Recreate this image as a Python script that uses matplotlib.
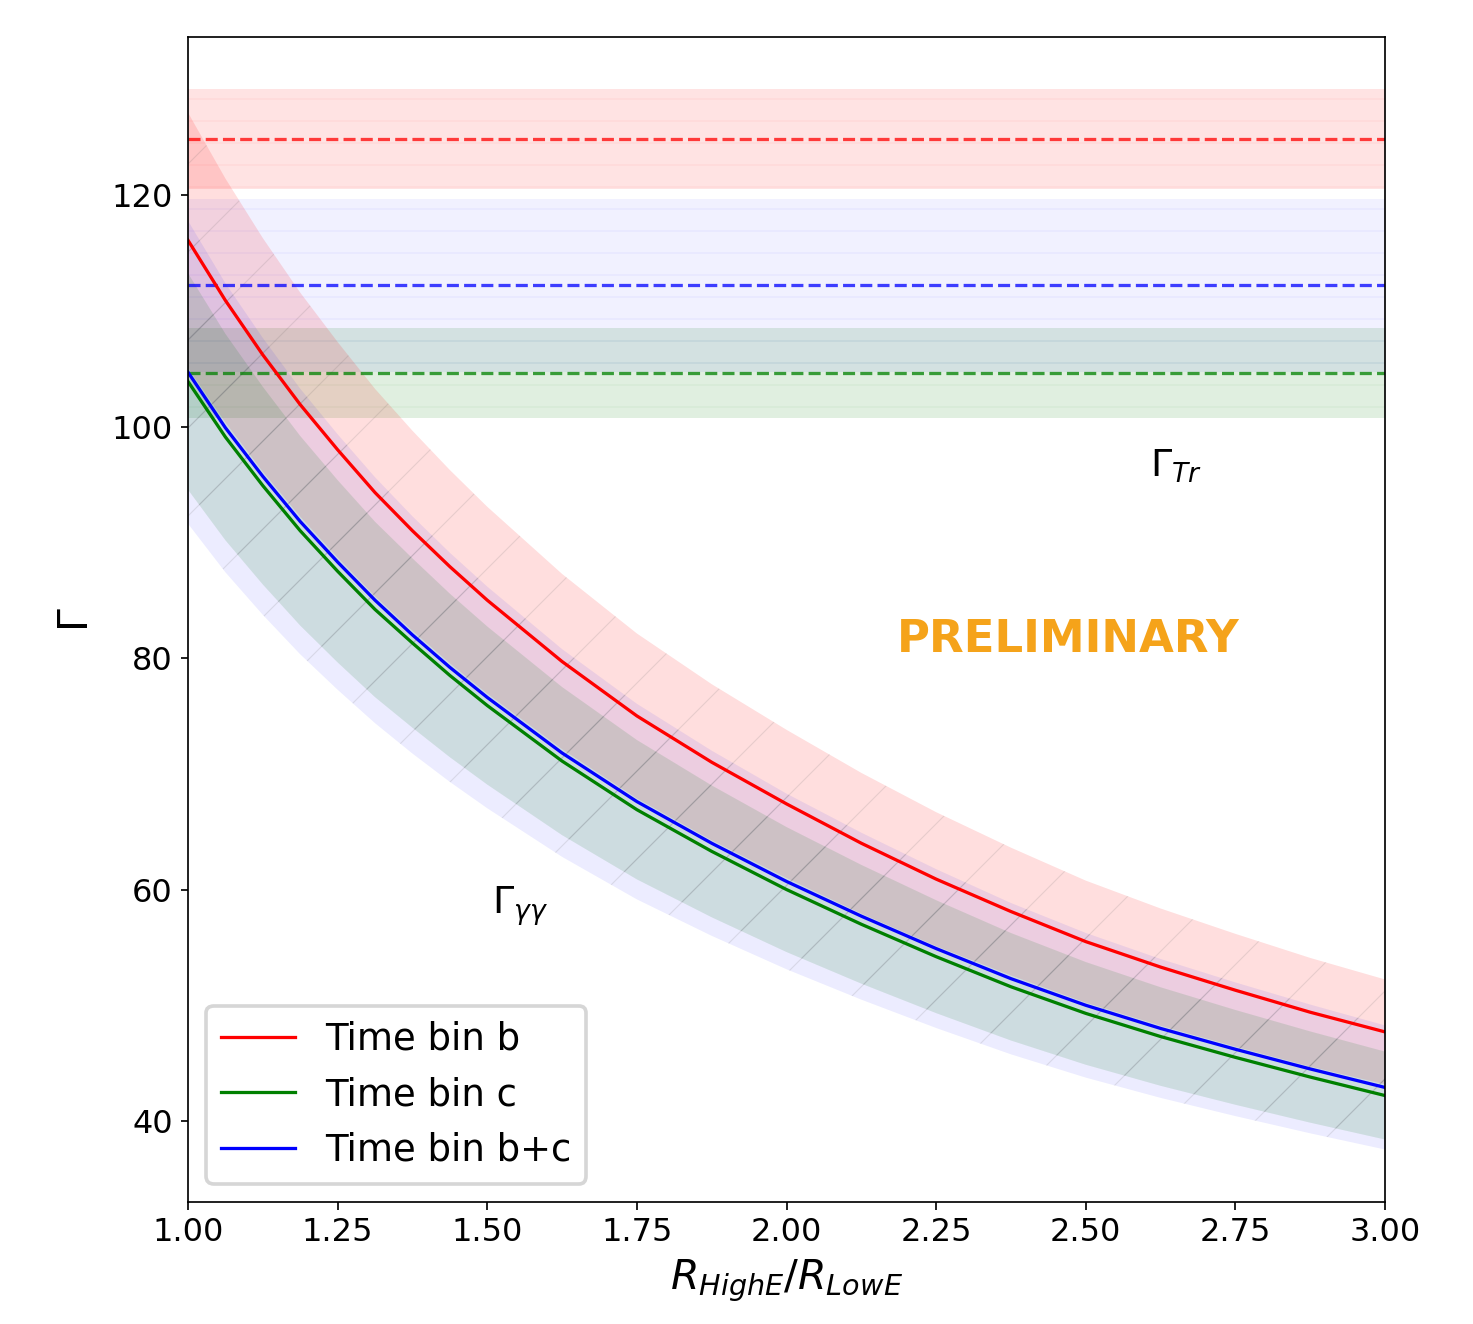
import numpy as np
import matplotlib
matplotlib.use('Agg')
import matplotlib.pyplot as plt
from matplotlib.colors import to_rgba

# ratio R_HighE / R_LowE and the gamma-gamma curves
ratio = [1.0, 1.0625, 1.125, 1.1875, 1.25, 1.3125, 1.375, 1.4375, 1.5, 1.625, 1.75,
         1.875, 2.0, 2.125, 2.25, 2.375, 2.5, 2.625, 2.75, 2.875, 3.0]
gamma_b = [116.1, 110.9, 106.2, 101.9, 98.0, 94.3, 91.0, 87.9, 85.0, 79.7, 75.0,
           71.0, 67.4, 64.0, 60.9, 58.1, 55.5, 53.3, 51.3, 49.4, 47.7]
gamma_c = [103.9, 99.1, 94.9, 91.0, 87.5, 84.2, 81.3, 78.5, 75.9, 71.1, 66.9,
           63.3, 60.0, 57.0, 54.2, 51.6, 49.3, 47.3, 45.5, 43.8, 42.2]
gamma_bc = [104.7, 99.9, 95.7, 91.8, 88.3, 85.0, 82.0, 79.2, 76.6, 71.8, 67.6,
            64.0, 60.7, 57.7, 54.9, 52.3, 50.0, 48.0, 46.2, 44.5, 42.9]

# relative uncertainty of each curve
rel_err = {'b': 0.095, 'c': 0.09, 'bc': 0.125}

# transparency Lorentz factor (value, error)
gamma_tr = {'b': (124.85, 4.3), 'c': (104.6, 3.9), 'bc': (112.2, 7.5)}

labels = {'b': 'Time bin b', 'c': 'Time bin c', 'bc': 'Time bin b+c'}
colors = {'b': 'red', 'c': 'green', 'bc': 'blue'}
band_alpha = {'b': 0.11, 'c': 0.12, 'bc': 0.055}
curve_alpha = {'b': 0.13, 'c': 0.13, 'bc': 0.075}

dpi = 264
px = 72 / dpi  # one pixel in points

plt.rcParams['hatch.linewidth'] = 1.1 * px
plt.rcParams['axes.linewidth'] = 1.7 * px
plt.rcParams['xtick.major.width'] = 1.7 * px
plt.rcParams['ytick.major.width'] = 1.7 * px
plt.rcParams['xtick.major.size'] = 7.5 * px
plt.rcParams['ytick.major.size'] = 7.5 * px
plt.rcParams['xtick.major.pad'] = 7.5 * px
plt.rcParams['ytick.major.pad'] = 7.5 * px
plt.rcParams['xtick.labelsize'] = 32 * px
plt.rcParams['ytick.labelsize'] = 32 * px
plt.rcParams['font.size'] = 37 * px

fig = plt.figure(figsize=(1473 / dpi, 1324 / dpi), dpi=dpi)
ax = fig.add_axes([0.1276, 0.0921, 0.8127, 0.8799])

x = np.array(ratio)
curves = {'b': np.array(gamma_b), 'c': np.array(gamma_c), 'bc': np.array(gamma_bc)}
lw = 3.25 * px

for key in ['b', 'c', 'bc']:
    col = colors[key]
    val, err = gamma_tr[key]
    # horizontal band for Gamma_Tr
    ax.fill_between([1.0, 3.0], val - err, val + err,
                    facecolor=to_rgba(col, band_alpha[key]),
                    edgecolor=to_rgba(col, 0.06),
                    linewidth=0, hatch='--')
    ax.axhline(val, color=col, ls='--', lw=lw, alpha=0.75)

for key in ['b', 'c', 'bc']:
    col = colors[key]
    y = curves[key]
    ax.fill_between(x, y * (1 - rel_err[key]), y * (1 + rel_err[key]),
                    facecolor=to_rgba(col, curve_alpha[key]),
                    edgecolor=(0.35, 0.35, 0.35, 0.14),
                    linewidth=0, hatch='/')

for key in ['b', 'c', 'bc']:
    ax.plot(x, curves[key], color=colors[key], lw=lw, label=labels[key])

ax.set_xlim(1.0, 3.0)
ax.set_ylim(33.0, 133.65)
ax.set_xticks([1.0, 1.25, 1.5, 1.75, 2.0, 2.25, 2.5, 2.75, 3.0])
ax.set_yticks([40, 60, 80, 100, 120])

ax.set_xlabel(r'$R_{HighE}/R_{LowE}$', fontsize=41 * px, labelpad=10 * px)
ax.set_ylabel(r'$\Gamma$', fontsize=41 * px)

ax.text(2.607, 96.6, r'$\Gamma_{Tr}$', fontsize=38 * px, ha='left', va='center')
ax.text(1.508, 58.6, r'$\Gamma_{\gamma\gamma}$', fontsize=38 * px, ha='left', va='center')
ax.text(2.47, 81.6, 'PRELIMINARY', color='#f5a31a', fontsize=45 * px,
        fontweight='bold', ha='center', va='center')

ax.legend(loc='lower left', fontsize=37 * px)

fig.savefig('out.png', dpi=dpi)
